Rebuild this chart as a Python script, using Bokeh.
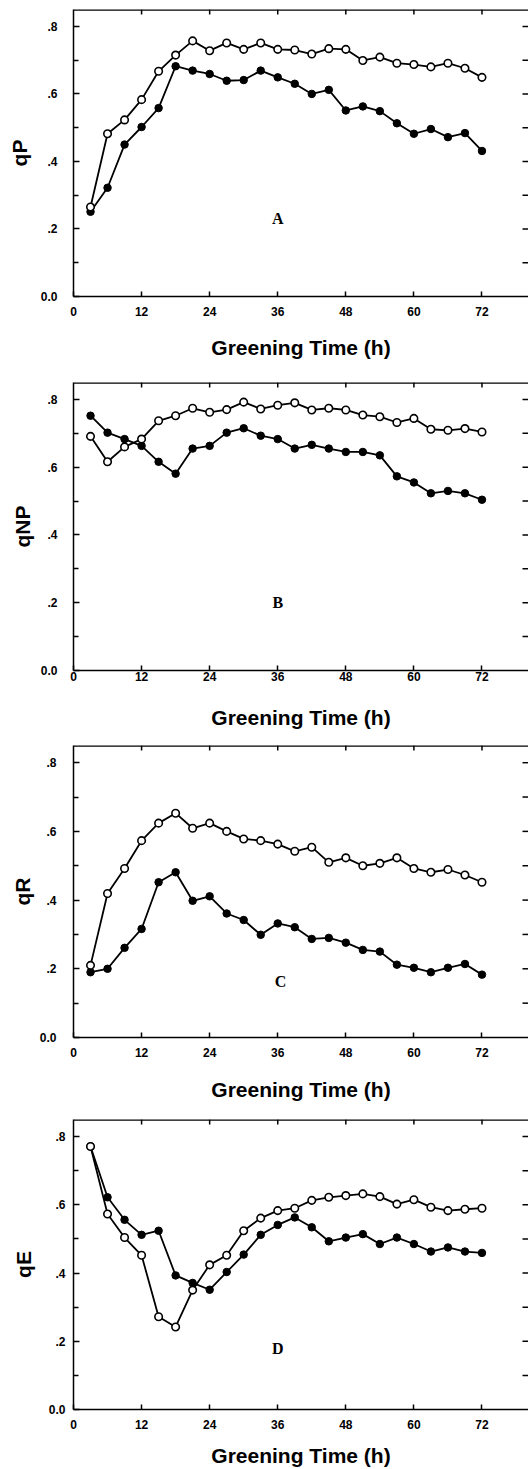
import math
from bokeh.plotting import figure
from bokeh.layouts import column
from bokeh.models import FixedTicker, CustomJSTickFormatter, Range1d, Label
from bokeh.embed import file_html
from bokeh.resources import INLINE

hours = [3, 6, 9, 12, 15, 18, 21, 24, 27, 30, 33, 36, 39, 42, 45, 48, 51, 54, 57, 60, 63, 66, 69, 72]

qP_open = [0.265, 0.482, 0.523, 0.583, 0.667, 0.715, 0.757, 0.728, 0.751, 0.732, 0.751, 0.732,
           0.730, 0.718, 0.734, 0.732, 0.699, 0.709, 0.691, 0.687, 0.680, 0.691, 0.676, 0.649]
qP_filled = [0.251, 0.322, 0.450, 0.502, 0.558, 0.682, 0.669, 0.659, 0.639, 0.641, 0.669, 0.649,
             0.630, 0.600, 0.612, 0.551, 0.563, 0.549, 0.513, 0.482, 0.496, 0.472, 0.484, 0.431]

qNP_open = [0.691, 0.616, 0.660, 0.683, 0.737, 0.752, 0.774, 0.762, 0.770, 0.792, 0.772, 0.783,
            0.790, 0.769, 0.774, 0.769, 0.754, 0.749, 0.732, 0.744, 0.712, 0.709, 0.714, 0.704]
qNP_filled = [0.752, 0.702, 0.683, 0.663, 0.616, 0.581, 0.655, 0.663, 0.702, 0.715, 0.693, 0.683,
              0.655, 0.666, 0.655, 0.645, 0.645, 0.635, 0.573, 0.555, 0.523, 0.530, 0.523, 0.504]

qR_open = [0.210, 0.419, 0.492, 0.573, 0.624, 0.653, 0.609, 0.624, 0.600, 0.578, 0.573, 0.563,
           0.542, 0.554, 0.510, 0.523, 0.500, 0.507, 0.523, 0.492, 0.481, 0.489, 0.473, 0.452]
qR_filled = [0.190, 0.200, 0.261, 0.316, 0.452, 0.481, 0.398, 0.411, 0.361, 0.342, 0.299, 0.332,
             0.321, 0.287, 0.290, 0.276, 0.255, 0.250, 0.212, 0.203, 0.190, 0.203, 0.214, 0.183]

qE_open = [0.771, 0.573, 0.504, 0.452, 0.272, 0.242, 0.350, 0.424, 0.452, 0.524, 0.561, 0.583,
           0.590, 0.613, 0.622, 0.627, 0.632, 0.624, 0.602, 0.615, 0.593, 0.583, 0.587, 0.590]
qE_filled = [0.771, 0.622, 0.556, 0.512, 0.524, 0.393, 0.371, 0.351, 0.403, 0.454, 0.512, 0.541,
             0.563, 0.534, 0.493, 0.504, 0.514, 0.485, 0.504, 0.485, 0.463, 0.475, 0.463, 0.459]

y_labels = ["qP", "qNP", "qR", "qE"]
panel_letters = ["A", "B", "C", "D"]
letter_x = [36, 36, 36.5, 36]
letter_y = [0.23, 0.20, 0.163, 0.178]
x_ticks = [0, 12, 24, 36, 48, 60, 72]
top_ticks = [12, 24, 36, 48, 60, 72]
y_major = [0.0, 0.2, 0.4, 0.6, 0.8]
y_minor = [0.1, 0.3, 0.5, 0.7]
right_ticks = [0.1, 0.2, 0.3, 0.4, 0.5, 0.6, 0.7, 0.8]
x_label = "Greening Time (h)"
X_END = 80.2
Y_END = 0.85

series = [(qP_open, qP_filled), (qNP_open, qNP_filled), (qR_open, qR_filled), (qE_open, qE_filled)]

# layout per panel: (height, border_top, border_bottom, x tick-label standoff, x axis-label standoff,
#                    y tick-label standoff, y axis-label standoff)
layouts = [(370, 9, 74, 10, 17, 16, 7),
           (368, 12, 68, 1, 22, 16, 4),
           (372, 7, 73, 10, 18, 17, 3),
           (359, 9, 60, 10, 12, 8, 11)]
BORDER_LEFT = 73

FONT = "Liberation Sans"
fmt = CustomJSTickFormatter(code="""
    if (Math.abs(tick) < 1e-9) { return "0.0"; }
    return tick.toFixed(1).replace(/^0/, "");
""")

figs = []
for i in range(4):
    h, bt, bb, tls, als, ytls, yals = layouts[i]
    p = figure(width=528, height=h, output_backend="svg", toolbar_location=None,
               x_range=Range1d(0, X_END), y_range=Range1d(0, Y_END),
               min_border_top=bt, min_border_bottom=bb, min_border_left=BORDER_LEFT,
               min_border_right=0,
               x_axis_label=x_label, y_axis_label=y_labels[i])
    p.xgrid.visible = False
    p.ygrid.visible = False
    p.outline_line_color = None
    p.background_fill_color = "white"
    p.border_fill_color = "white"

    xa = p.xaxis[0]
    xa.ticker = FixedTicker(ticks=x_ticks)
    xa.major_tick_in = 5
    xa.major_tick_out = 0
    xa.minor_tick_in = 0
    xa.minor_tick_out = 0
    xa.axis_line_width = 1.5
    xa.major_tick_line_width = 1.5
    xa.major_label_text_font = FONT
    xa.major_label_text_font_style = "bold"
    xa.major_label_text_font_size = "12px"
    xa.major_label_standoff = tls
    xa.axis_label_text_font = FONT
    xa.axis_label_text_font_style = "bold"
    xa.axis_label_text_font_size = "21px"
    xa.axis_label_standoff = als
    xa.axis_label_text_color = "black"
    xa.major_label_text_color = "black"

    ya = p.yaxis[0]
    ya.ticker = FixedTicker(ticks=y_major, minor_ticks=y_minor)
    ya.formatter = fmt
    ya.major_tick_in = 6
    ya.major_tick_out = 0
    ya.minor_tick_in = 5
    ya.minor_tick_out = 0
    ya.axis_line_width = 1.5
    ya.major_tick_line_width = 1.5
    ya.minor_tick_line_width = 1.5
    ya.major_label_text_font = FONT
    ya.major_label_text_font_style = "bold"
    ya.major_label_text_font_size = "12px"
    ya.major_label_standoff = ytls
    ya.axis_label_text_font = FONT
    ya.axis_label_text_font_style = "bold"
    ya.axis_label_text_font_size = "21px"
    ya.axis_label_standoff = yals
    ya.axis_label_text_color = "black"
    ya.major_label_text_color = "black"

    # top frame line and inward ticks on the top and right edges
    p.ray(x=[0], y=[Y_END], length=0, angle=0, line_color="black", line_width=2.5)
    p.ray(x=top_ticks, y=[Y_END] * len(top_ticks), length=5, length_units="screen",
          angle=-math.pi / 2, line_color="black", line_width=1.5)
    p.ray(x=[X_END] * len(right_ticks), y=right_ticks, length=6, length_units="screen",
          angle=math.pi, line_color="black", line_width=1.5)

    op, fl = series[i]
    p.line(hours, fl, line_color="black", line_width=1.8)
    p.line(hours, op, line_color="black", line_width=1.8)
    p.scatter(hours, fl, size=7.5, marker="circle", fill_color="black", line_color="black", line_width=1)
    p.scatter(hours, op, size=7.5, marker="circle", fill_color="white", line_color="black", line_width=1.6)

    p.add_layout(Label(x=letter_x[i], y=letter_y[i], text=panel_letters[i], text_font="Liberation Serif",
                       text_font_style="bold", text_font_size="16px", text_align="center",
                       text_baseline="middle", text_color="black"))
    figs.append(p)

layout = column(*figs, spacing=0)
open("out.html", "w").write(file_html(layout, INLINE))
